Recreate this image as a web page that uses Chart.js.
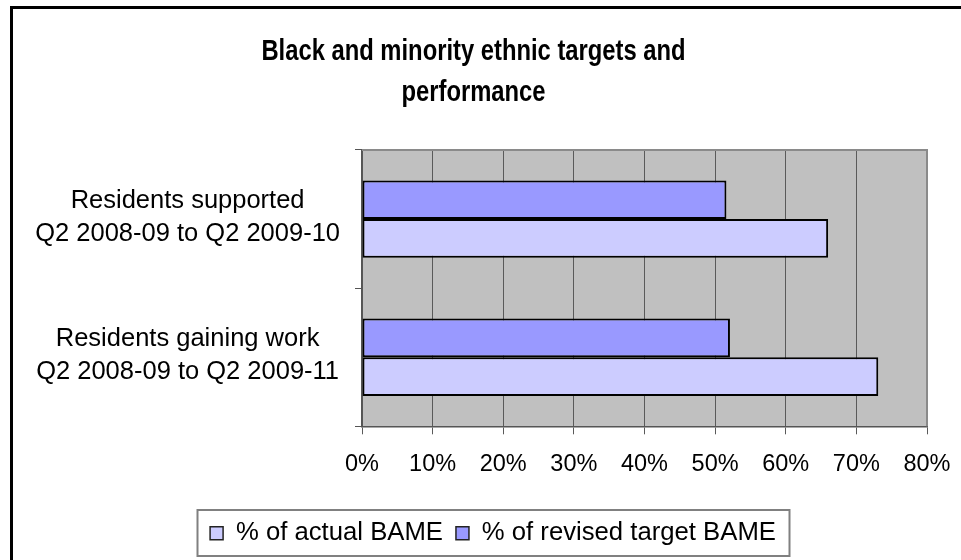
<!DOCTYPE html>
<html>
<head>
<meta charset="utf-8">
<script src="https://cdn.jsdelivr.net/npm/chart.js@4/dist/chart.umd.min.js"></script>
<style>
  html, body { margin: 0; padding: 0; background: #ffffff; }
  #wrap { width: 961px; height: 560px; position: relative; }
</style>
</head>
<body>
<div id="wrap"><canvas id="chart" width="961" height="560"></canvas></div>
<script>
// Categories (two-line labels) and the two series, in percent
const categories = [
  ['Residents supported', 'Q2 2008-09 to Q2 2009-10'],
  ['Residents gaining work', 'Q2 2008-09 to Q2 2009-11']
];
const actualBame = [66.0, 73.1];
const revisedTargetBame = [51.6, 52.1];
const percentTicks = [0, 10, 20, 30, 40, 50, 60, 70, 80];

const FONT = "'Liberation Sans', Arial, Helvetica, sans-serif";

const PAD_LEFT = 20;
const PAD_RIGHT = 34;
const PLOT_LEFT = 362;
const LEGEND_SHIFT = 19.5;
const TITLE_NARROW = 0.82;   // condensed look for the heading

// Grey plot background, plot frame, outer chart border and legend frame
const chartDecor = {
  id: 'chartDecor',
  afterLayout(chart) {
    // nudge the legend so it sits centred under the whole chart frame
    const lg = chart.legend;
    if (lg) { lg.left += LEGEND_SHIFT; lg.right += LEGEND_SHIFT; }
    // draw the heading horizontally condensed, like a narrow typeface
    const t = chart.titleBlock;
    if (t && !t._narrowed) {
      const orig = t.draw.bind(t);
      t.draw = function () {
        const ctx = this.ctx;
        const cx = (this.left + this.right) / 2;
        ctx.save();
        ctx.translate(cx, 0);
        ctx.scale(TITLE_NARROW, 1);
        ctx.translate(-cx, 0);
        orig();
        ctx.restore();
      };
      t._narrowed = true;
    }
  },
  beforeDraw(chart) {
    const { ctx, chartArea: a } = chart;
    ctx.save();
    ctx.fillStyle = '#ffffff';
    ctx.fillRect(0, 0, chart.width, chart.height);
    ctx.fillStyle = '#c0c0c0';
    ctx.fillRect(a.left, a.top, a.right - a.left, a.bottom - a.top);
    ctx.restore();
  },
  afterDraw(chart) {
    const { ctx, chartArea: a } = chart;
    ctx.save();
    // plot frame (top and right)
    ctx.strokeStyle = '#8a8a8a';
    ctx.lineWidth = 2;
    ctx.beginPath();
    ctx.moveTo(a.left, a.top);
    ctx.lineTo(a.right, a.top);
    ctx.lineTo(a.right, a.bottom);
    ctx.stroke();
    // outer chart border
    ctx.strokeStyle = '#000000';
    ctx.lineWidth = 3;
    ctx.strokeRect(11.5, 7.5, 1200, 800);
    // legend frame
    const hb = chart.legend && chart.legend.legendHitBoxes;
    if (hb && hb.length) {
      let l = Infinity, r = -Infinity, cy = 0;
      hb.forEach(b => { l = Math.min(l, b.left); r = Math.max(r, b.left + b.width); cy += b.top + b.height / 2; });
      cy /= hb.length;
      ctx.strokeStyle = '#808080';
      ctx.lineWidth = 2;
      ctx.strokeRect(Math.round(l - 13) + 0.5, Math.round(cy - 23), Math.round(r - l + 26), 46);
    }
    ctx.restore();
  }
};

new Chart(document.getElementById('chart'), {
  type: 'bar',
  data: {
    labels: categories,
    datasets: [
      {
        label: '% of revised target BAME',
        data: revisedTargetBame,
        backgroundColor: '#9999ff',
        borderColor: '#000000',
        borderWidth: 2,
        borderSkipped: false,
        categoryPercentage: 0.56,
        barPercentage: 1.0
      },
      {
        label: '% of actual BAME',
        data: actualBame,
        backgroundColor: '#ccccff',
        borderColor: '#000000',
        borderWidth: 2,
        borderSkipped: false,
        categoryPercentage: 0.56,
        barPercentage: 1.0
      }
    ]
  },
  options: {
    indexAxis: 'y',
    responsive: false,
    animation: false,
    devicePixelRatio: 1,
    layout: { padding: { left: PAD_LEFT, right: PAD_RIGHT, top: 0, bottom: 4 } },
    scales: {
      x: {
        min: 0,
        max: 80,
        afterBuildTicks: s => { s.ticks = percentTicks.map(v => ({ value: v })); },
        afterFit: s => { s.height = 81; s.paddingRight = 0; },
        grid: { color: '#5a5a5a', lineWidth: 1, tickLength: 8, drawOnChartArea: true },
        border: { color: '#555555', width: 1.5 },
        ticks: {
          color: '#000000',
          padding: 16,
          maxRotation: 0,
          autoSkip: false,
          font: { family: FONT, size: 23.5 },
          callback: v => v + '%'
        }
      },
      y: {
        afterFit: s => { s.width = PLOT_LEFT - PAD_LEFT; },
        grid: { offset: true, drawOnChartArea: false, color: '#555555', tickLength: 7 },
        border: { color: '#555555', width: 1.5 },
        ticks: {
          color: '#000000',
          padding: 15,
          crossAlign: 'center',
          labelOffset: -2,
          font: { family: FONT, size: 25.5, lineHeight: 1.3 }
        }
      }
    },
    plugins: {
      title: {
        display: true,
        text: ['Black and minority ethnic targets and', 'performance'],
        color: '#000000',
        font: { family: FONT, size: 29, weight: 'bold', lineHeight: 1.4 },
        padding: { top: 32, bottom: 36.8 }
      },
      legend: {
        position: 'bottom',
        reverse: true,
        labels: {
          color: '#000000',
          boxWidth: 13,
          boxHeight: 13,
          padding: 13,
          font: { family: FONT, size: 25.7 },
          generateLabels: chart => {
            const items = Chart.defaults.plugins.legend.labels.generateLabels(chart);
            items.forEach(it => { it.lineWidth = 1.5; it.strokeStyle = '#222222'; });
            return items;
          }
        }
      },
      tooltip: { enabled: false }
    }
  },
  plugins: [chartDecor]
});
</script>
</body>
</html>
